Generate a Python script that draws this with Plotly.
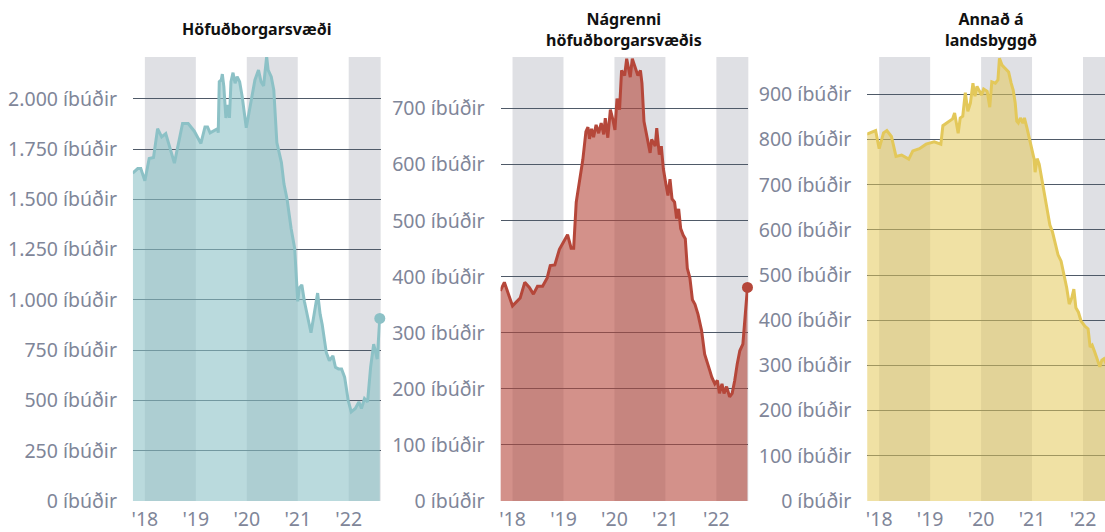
import plotly.graph_objects as go
from plotly.subplots import make_subplots

# Íbúðir til sölu - tími í árum (aukastafir = hluti úr ári)
titlar = ["Höfuðborgarsvæði", "Nágrenni<br>höfuðborgarsvæðis", "Annað á<br>landsbyggð"]

ar_hofud = [2017.76, 2017.86, 2017.92, 2018.00, 2018.085, 2018.17, 2018.25, 2018.33, 2018.41,
            2018.58, 2018.74, 2018.85, 2018.97, 2019.10, 2019.18, 2019.23, 2019.28, 2019.43,
            2019.44, 2019.46, 2019.50, 2019.52, 2019.55, 2019.59, 2019.63, 2019.66, 2019.69,
            2019.73, 2019.77, 2019.81, 2019.86, 2019.91, 2019.99, 2020.03, 2020.10, 2020.16,
            2020.23, 2020.28, 2020.33, 2020.36, 2020.39, 2020.42, 2020.48, 2020.53, 2020.59,
            2020.68, 2020.73, 2020.79, 2020.87, 2020.94, 2021.00, 2021.03, 2021.08, 2021.13,
            2021.19, 2021.26, 2021.31, 2021.39, 2021.44, 2021.48, 2021.56, 2021.62, 2021.69,
            2021.74, 2021.80, 2021.86, 2021.92, 2021.99, 2022.05, 2022.13, 2022.20, 2022.25,
            2022.31, 2022.37, 2022.43, 2022.49, 2022.56, 2022.61]
ibudir_hofud = [1630, 1653, 1653, 1593, 1703, 1708, 1852, 1811, 1827,
                1680, 1877, 1877, 1839, 1778, 1860, 1860, 1831, 1852,
                1831, 2085, 2094, 2123, 2061, 1905, 1970, 1905, 2085,
                2130, 2077, 2110, 2085, 2011, 1856, 1913, 2028, 2094,
                2143, 2085, 2064, 2135, 2210, 2143, 2110, 2044, 1782,
                1683, 1576, 1502, 1355, 1256, 993, 1059, 1075, 993,
                928, 837, 911, 1034, 928, 878, 739, 698, 722,
                665, 657, 657, 616, 501, 443, 460, 493, 460,
                509, 493, 665, 780, 706, 908]

ar_nagr = [2017.76, 2017.84, 2018.00, 2018.15, 2018.24, 2018.33, 2018.41, 2018.49, 2018.59,
           2018.68, 2018.74, 2018.83, 2018.92, 2019.02, 2019.08, 2019.15, 2019.20, 2019.25,
           2019.31, 2019.38, 2019.44, 2019.48, 2019.51, 2019.55, 2019.59, 2019.64, 2019.69,
           2019.74, 2019.79, 2019.82, 2019.87, 2019.92, 2019.97, 2020.01, 2020.05, 2020.10,
           2020.14, 2020.20, 2020.24, 2020.28, 2020.31, 2020.35, 2020.41, 2020.46, 2020.51,
           2020.54, 2020.58, 2020.64, 2020.70, 2020.73, 2020.80, 2020.83, 2020.88, 2020.92,
           2020.96, 2021.01, 2021.05, 2021.09, 2021.13, 2021.18, 2021.22, 2021.26, 2021.30,
           2021.35, 2021.39, 2021.43, 2021.48, 2021.53, 2021.58, 2021.64, 2021.67, 2021.71,
           2021.77, 2021.82, 2021.87, 2021.91, 2021.97, 2022.02, 2022.06, 2022.11, 2022.15,
           2022.20, 2022.26, 2022.31, 2022.36, 2022.41, 2022.46, 2022.52, 2022.56, 2022.61]
ibudir_nagr = [375, 390, 348, 362, 390, 381, 369, 383, 383,
               398, 420, 421, 449, 465, 475, 451, 451, 533,
               568, 609, 659, 667, 646, 664, 649, 671, 656,
               674, 654, 683, 648, 698, 680, 662, 718, 698,
               768, 759, 789, 768, 756, 789, 771, 759, 768,
               745, 677, 651, 621, 645, 633, 665, 618, 633,
               592, 565, 545, 574, 539, 533, 504, 521, 486,
               474, 468, 415, 398, 359, 351, 333, 318, 304,
               262, 245, 233, 221, 209, 215, 192, 209, 192,
               204, 186, 192, 215, 245, 268, 280, 321, 381]

ar_land = [2017.76, 2017.87, 2017.93, 2018.00, 2018.085, 2018.15, 2018.24, 2018.33, 2018.44,
           2018.58, 2018.66, 2018.79, 2018.92, 2019.08, 2019.21, 2019.25, 2019.38, 2019.44,
           2019.48, 2019.51, 2019.55, 2019.59, 2019.64, 2019.69, 2019.74, 2019.79, 2019.84,
           2019.88, 2019.92, 2019.97, 2020.01, 2020.05, 2020.12, 2020.17, 2020.21, 2020.28,
           2020.33, 2020.36, 2020.41, 2020.47, 2020.54, 2020.59, 2020.63, 2020.67, 2020.70,
           2020.73, 2020.77, 2020.82, 2020.85, 2020.90, 2020.95, 2021.00, 2021.04, 2021.06,
           2021.10, 2021.14, 2021.19, 2021.25, 2021.30, 2021.35, 2021.40, 2021.46, 2021.51,
           2021.57, 2021.63, 2021.68, 2021.73, 2021.78, 2021.82, 2021.86, 2021.91, 2021.96,
           2022.03, 2022.10, 2022.14, 2022.18, 2022.23, 2022.28, 2022.33, 2022.37, 2022.41,
           2022.47, 2022.53, 2022.61]
ibudir_land = [812, 817, 820, 780, 815, 820, 807, 763, 766,
               757, 775, 780, 790, 795, 790, 831, 841, 846,
               859, 843, 814, 848, 852, 904, 863, 881, 925,
               896, 918, 907, 899, 912, 907, 872, 928, 925,
               932, 980, 965, 958, 950, 925, 910, 881, 841,
               837, 848, 837, 848, 826, 801, 779, 757, 728,
               758, 746, 713, 677, 640, 611, 596, 567, 545,
               531, 501, 472, 436, 450, 469, 428, 418, 399,
               388, 381, 341, 345, 330, 315, 297, 312, 315,
               300, 295, 310]

y_tikk = [list(range(0, 2001, 250)), list(range(0, 701, 100)), list(range(0, 901, 100))]
y_efst = [2208, 792, 983]
x_tikk = [2018, 2019, 2020, 2021, 2022]
x_tikk_texti = ["'18", "'19", "'20", "'21", "'22"]
grau_ar = [(2018, 2019), (2020, 2021), (2022, 2023)]

litir = ["#8cc1c6", "#b5473a", "#e3c85a"]
fyllingar = ["rgba(140,193,198,0.6)", "rgba(182,72,60,0.6)", "rgba(227,200,90,0.55)"]

gogn = [(ar_hofud, ibudir_hofud), (ar_nagr, ibudir_nagr), (ar_land, ibudir_land)]

W = 1105
svid = [(132 / W, 380 / W), (500 / W, 748 / W), (867 / W, 1.0)]
x_byrjun = 2017.765
x_enda = [2022.627, 2022.627, x_byrjun + (W - 867) / 51.0]
letur = dict(family="Noto Sans", size=19.5, color="#7f8699")

fig = make_subplots(rows=1, cols=3)

for i, (x, y) in enumerate(gogn):
    fig.add_trace(go.Scatter(x=x, y=y, mode="lines", fill="tozeroy",
                             line=dict(color=litir[i], width=3),
                             fillcolor=fyllingar[i], hoverinfo="skip",
                             showlegend=False), row=1, col=i + 1)
    if i < 2:
        fig.add_trace(go.Scatter(x=[x[-1]], y=[y[-1]], mode="markers",
                                 marker=dict(color=litir[i], size=11),
                                 cliponaxis=False, showlegend=False),
                      row=1, col=i + 1)
    for a0, a1 in grau_ar:
        fig.add_shape(type="rect", x0=a0, x1=a1, y0=0, y1=1,
                      xref="x" + ("" if i == 0 else str(i + 1)),
                      yref="y" + ("" if i == 0 else str(i + 1)) + " domain",
                      fillcolor="#dfe0e4", line_width=0, layer="below")
    texti = [f"{v:,}".replace(",", ".") + " íbúðir" for v in y_tikk[i]]
    fig.update_yaxes(range=[0, y_efst[i]], tickvals=y_tikk[i], ticktext=texti,
                     showgrid=True, gridcolor="#4f5a68", gridwidth=1.2,
                     zeroline=False, showline=False,
                     ticks="outside", ticklen=11, tickcolor="rgba(0,0,0,0)",
                     tickfont=letur, fixedrange=True, row=1, col=i + 1)
    fig.update_xaxes(domain=list(svid[i]), range=[x_byrjun, x_enda[i]],
                     tickvals=x_tikk, ticktext=x_tikk_texti, showgrid=False,
                     zeroline=False, showline=False,
                     ticks="outside", ticklen=1, tickcolor="rgba(0,0,0,0)",
                     tickfont=letur, fixedrange=True, row=1, col=i + 1)
    fig.add_annotation(text="<b>" + titlar[i] + "</b>", showarrow=False,
                       x=svid[i][0] + 124 / W, xref="paper", xanchor="center",
                       y=1, yref="paper", yanchor="middle", yshift=28,
                       font=dict(family="Noto Sans", size=16, color="#111111"))

fig.update_layout(width=W, height=532, margin=dict(l=0, r=0, t=57, b=27),
                  plot_bgcolor="white", paper_bgcolor="white")

fig.write_html("out.html", config={"displayModeBar": False},
               post_script="document.body.style.margin='0';document.body.style.overflow='hidden';")
